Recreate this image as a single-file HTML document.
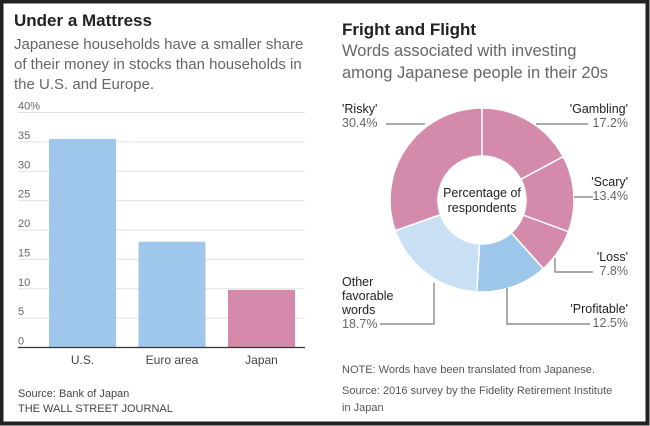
<!DOCTYPE html>
<html><head><meta charset="utf-8"><style>
body{margin:0;width:650px;height:426px;overflow:hidden;background:#fff}
svg{display:block;font-family:"Liberation Sans",sans-serif}
</style></head><body>
<svg width="650" height="426">
<rect x="1.5" y="1.5" width="646" height="422" fill="#fff" stroke="#222" stroke-width="4"/>
<text x="14" y="26" font-size="17" font-weight="bold" fill="#222">Under a Mattress</text>
<text font-size="15" fill="#666"><tspan x="14" y="49">Japanese households have a smaller share</tspan><tspan x="14" y="69">of their money in stocks than households in</tspan><tspan x="14" y="89">the U.S. and Europe.</tspan></text>
<text x="342" y="35" font-size="17" font-weight="bold" fill="#222">Fright and Flight</text>
<text font-size="16.5" fill="#666"><tspan x="342" y="56">Words associated with investing</tspan><tspan x="342" y="78">among Japanese people in their 20s</tspan></text>
<g id="bars"></g>
<g id="donut"></g>
<text x="18" y="397" font-size="11" fill="#444">Source: Bank of Japan</text>
<text x="18" y="412" font-size="11" fill="#444">THE WALL STREET JOURNAL</text>
<text x="342" y="373" font-size="11" fill="#555">NOTE: Words have been translated from Japanese.</text>
<text font-size="11" fill="#555"><tspan x="342" y="394">Source: 2016 survey by the Fidelity Retirement Institute</tspan><tspan x="342" y="411">in Japan</tspan></text>
</svg>
<script>
const NS="http://www.w3.org/2000/svg";
const barCats=["U.S.","Euro area","Japan"];
const barVals=[35.5,18,9.8];
const barColors=["#9fc7ec","#9fc7ec","#d68aab"];
const yTicks=[0,5,10,15,20,25,30,35,40];
const yTickLabels=["0","5","10","15","20","25","30","35","40%"];
const sliceNames=["'Gambling'","'Scary'","'Loss'","'Profitable'","Other favorable words","'Risky'"];
const sliceVals=[17.2,13.4,7.8,12.5,18.7,30.4];
const sliceColors=["#d48aab","#d48aab","#d48aab","#9cc6ea","#c9dff4","#d48aab"];
function mk(t,a,p){const e=document.createElementNS(NS,t);for(const k in a)e.setAttribute(k,a[k]);p.appendChild(e);return e;}
const bars=document.getElementById('bars');
const y0=347.5,yPer=(347.5-112.5)/40;
const Y=v=>y0-v*yPer;
const X=i=>49+i*89.5;
yTicks.forEach((t,i)=>{
  const g=mk('line',{x1:18,x2:305,y1:Y(t),y2:Y(t),stroke:t===0?'#333':'#e2e2e2','stroke-width':t===0?1.2:1},bars);
  
  
  const l=mk('text',{x:18,y:Y(t)-3,'font-size':11,fill:'#666'},bars);
  l.textContent=yTickLabels[i];
  
  
});
barVals.forEach((v,i)=>{
  const r=mk('rect',{x:X(i),y:Y(v),width:67,height:y0-Y(v),fill:barColors[i]},bars);
  
  
  const t=mk('text',{x:X(i)+33.5,y:364,'font-size':12,fill:'#444','text-anchor':'middle'},bars);
  t.textContent=barCats[i];
  
  
});
bars.appendChild(bars.querySelector('line'));
const d=document.getElementById('donut');
const cx=482,cy=200,R=92,r=44;
const total=sliceVals.reduce((a,b)=>a+b,0);
let acc=0;
function pt(a,rad){return [cx+rad*Math.sin(a),cy-rad*Math.cos(a)];}
sliceVals.forEach((v,i)=>{
  const a0=acc/total*2*Math.PI;acc+=v;const a1=acc/total*2*Math.PI;
  const lg=(a1-a0)>Math.PI?1:0;
  const [x0,y0_]=pt(a0,R),[x1,y1]=pt(a1,R),[x2,y2]=pt(a1,r),[x3,y3]=pt(a0,r);
  const p=mk('path',{d:`M${x0},${y0_}A${R},${R} 0 ${lg} 1 ${x1},${y1}L${x2},${y2}A${r},${r} 0 ${lg} 0 ${x3},${y3}Z`,fill:sliceColors[i],stroke:'#fff','stroke-width':1.5},d);
  
  
});
const ct=mk('text',{x:cx,y:cy-3,'font-size':12.5,fill:'#222','text-anchor':'middle'},d);
ct.innerHTML='<tspan x="'+cx+'" dy="0">Percentage of</tspan><tspan x="'+cx+'" dy="15">respondents</tspan>';


const lab=[
 {i:5,x:342,anchor:'start',lines:["'Risky'"],y:113,line:"M386,124H425"},
 {i:0,x:628,anchor:'end',lines:["'Gambling'"],y:113,line:"M536,124H588"},
 {i:1,x:628,anchor:'end',lines:["'Scary'"],y:186,line:"M574,197H593"},
 {i:2,x:628,anchor:'end',lines:["'Loss'"],y:261,line:"M555,258V272H593"},
 {i:3,x:628,anchor:'end',lines:["'Profitable'"],y:313,line:"M507,288V324H590"},
 {i:4,x:342,anchor:'start',lines:["Other","favorable","words"],y:286,line:"M380,324H434V283"}
];
lab.forEach(o=>{
  const t=mk('text',{x:o.x,y:o.y,'font-size':12.5,'text-anchor':o.anchor,fill:'#222'},d);
  let h='';o.lines.forEach((s,k)=>{h+='<tspan x="'+o.x+'" dy="'+(k?14:0)+'">'+s+'</tspan>';});
  h+='<tspan x="'+o.x+'" dy="14" fill="#666">'+sliceVals[o.i].toFixed(1)+'%</tspan>';
  t.innerHTML=h;
  
  
  const l=mk('path',{d:o.line,fill:'none',stroke:'#777','stroke-width':1.2},d);
  
  
});
</script>
</body></html>
